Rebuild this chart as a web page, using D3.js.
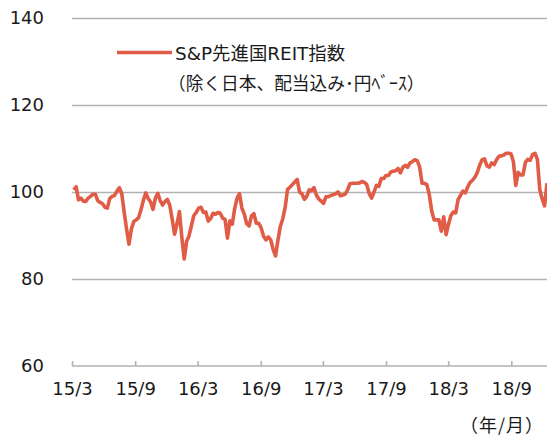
<!DOCTYPE html>
<html>
<head>
<meta charset="utf-8">
<script src="https://cdn.jsdelivr.net/npm/d3@7"></script>
<style>
  html, body { margin: 0; padding: 0; background: #ffffff; }
  svg { display: block; }
</style>
</head>
<body>
<svg id="chart" width="547" height="439"></svg>
<script>
// ---- data (weekly, Fridays from 2015-03-06) ----
const seriesName = "S&P先進国REIT指数";
const seriesNote = "（除く日本、配当込み･円ﾍﾞｰｽ）";
const unitLabel = "（年/月）";
const firstWeek = "2015-03-06";
const values = [
  100.5,101.2,98.2,98.6,97.9,97.8,98.6,99.0,99.5,99.5,
  98.0,97.6,97.3,96.5,96.3,98.5,99.0,99.2,100.2,101.0,
  99.6,95.4,91.5,88.0,91.5,93.2,93.6,94.1,95.9,98.1,
  99.8,98.5,97.7,96.0,98.6,99.7,98.0,97.0,97.8,98.3,
  96.9,93.7,90.3,92.7,95.5,89.6,84.6,88.7,89.9,92.3,
  94.6,95.3,96.3,96.5,95.3,95.4,93.3,93.9,95.1,94.9,
  95.3,95.1,94.0,93.7,89.4,93.4,92.6,96.2,98.6,99.6,
  96.3,94.9,92.7,92.2,94.5,95.0,92.8,92.8,91.8,89.9,
  89.0,89.7,89.0,86.8,85.3,88.9,92.1,93.8,96.4,100.6,
  101.1,101.7,102.3,102.9,100.0,99.6,98.3,99.0,100.5,100.3,
  101.0,99.3,98.4,97.9,97.4,98.9,98.9,99.2,99.4,99.6,
  100.0,99.1,99.3,99.5,100.5,101.9,102.0,102.0,102.0,102.1,
  102.4,102.2,101.7,99.6,98.6,100.0,101.5,101.3,103.1,103.1,
  103.8,103.8,104.6,104.8,104.9,105.4,104.4,105.7,106.1,105.7,
  106.7,107.0,107.4,107.2,105.7,102.0,102.0,101.7,99.4,95.7,
  93.6,93.6,93.6,91.0,94.3,90.2,92.6,94.6,95.4,95.2,
  98.3,99.2,100.2,99.8,101.2,102.2,102.7,103.4,104.5,106.2,
  107.4,107.6,106.0,105.7,106.7,106.3,107.4,108.2,108.3,108.5,
  108.9,108.9,108.8,107.0,101.5,104.5,103.9,103.9,106.8,107.5,
  107.3,108.6,108.9,107.5,100.5,98.4,96.8,102.0
];
const yTicks = [60, 80, 100, 120, 140];
const xTickDates = ["2015-03-01","2015-09-01","2016-03-01","2016-09-01","2017-03-01","2017-09-01","2018-03-01","2018-09-01"];
const xDomain = ["2015-03-01","2018-12-14"];

// ---- build ----
const parse = d3.timeParse("%Y-%m-%d");
const start = parse(firstWeek);
const data = values.map((v, i) => ({ date: d3.timeDay.offset(start, 7 * i), value: v }));

const svg = d3.select("#chart");
const x = d3.scaleTime().domain(xDomain.map(parse)).range([72, 547]);
const y = d3.scaleLinear().domain([60, 140]).range([366, 18]);

const numFont = "'DejaVu Sans', 'Noto Sans CJK JP', sans-serif";
const jpFont = "'Noto Sans CJK JP', 'DejaVu Sans', sans-serif";

// gridlines (y axis)
const yAxis = d3.axisLeft(y).tickValues(yTicks).tickSize(-(547 - 72)).tickPadding(28).tickFormat(d3.format("d"));
const gy = svg.append("g").attr("transform", "translate(72,0)").call(yAxis);
gy.select(".domain").remove();
gy.selectAll(".tick line").attr("stroke", "#b2b2b2").attr("stroke-width", 1.6)
  .filter(d => d === 60).remove();
gy.selectAll(".tick text").attr("font-family", numFont).attr("font-size", 18).attr("fill", "#1a1a1a");

// x axis
const xAxis = d3.axisBottom(x).tickValues(xTickDates.map(parse)).tickSize(-5).tickPadding(16)
  .tickFormat(d3.timeFormat("%y/%-m"));
const gx = svg.append("g").attr("transform", "translate(0,366)").call(xAxis);
gx.select(".domain").attr("stroke", "#b2b2b2").attr("stroke-width", 1.6).attr("d", "M72,0H547");
gx.selectAll(".tick line").attr("stroke", "#b2b2b2").attr("stroke-width", 1.6);
gx.selectAll(".tick text").attr("font-family", numFont).attr("font-size", 18).attr("fill", "#1a1a1a")
  .attr("dy", "0.71em");

// line
const line = d3.line().x(d => x(d.date)).y(d => y(d.value)).curve(d3.curveLinear);
svg.append("path").datum(data)
  .attr("fill", "none").attr("stroke", "#e05c46").attr("stroke-width", 3.6)
  .attr("stroke-linejoin", "round").attr("stroke-linecap", "butt")
  .attr("d", line);

// legend
svg.append("line").attr("x1", 117).attr("x2", 172).attr("y1", 52.5).attr("y2", 52.5)
  .attr("stroke", "#e05c46").attr("stroke-width", 3.4);
svg.append("text").attr("x", 175).attr("y", 60).attr("font-family", numFont).attr("font-size", 18.4)
  .attr("fill", "#1a1a1a").text(seriesName);
svg.append("text").attr("x", 168).attr("y", 89.5).attr("font-family", jpFont).attr("font-size", 17.7)
  .attr("fill", "#1a1a1a").text(seriesNote);

// unit label
svg.append("text").attr("x", 460).attr("y", 432)
  .attr("font-family", jpFont).attr("font-size", 18).attr("letter-spacing", 1)
  .attr("fill", "#1a1a1a").text(unitLabel);
</script>
</body>
</html>
